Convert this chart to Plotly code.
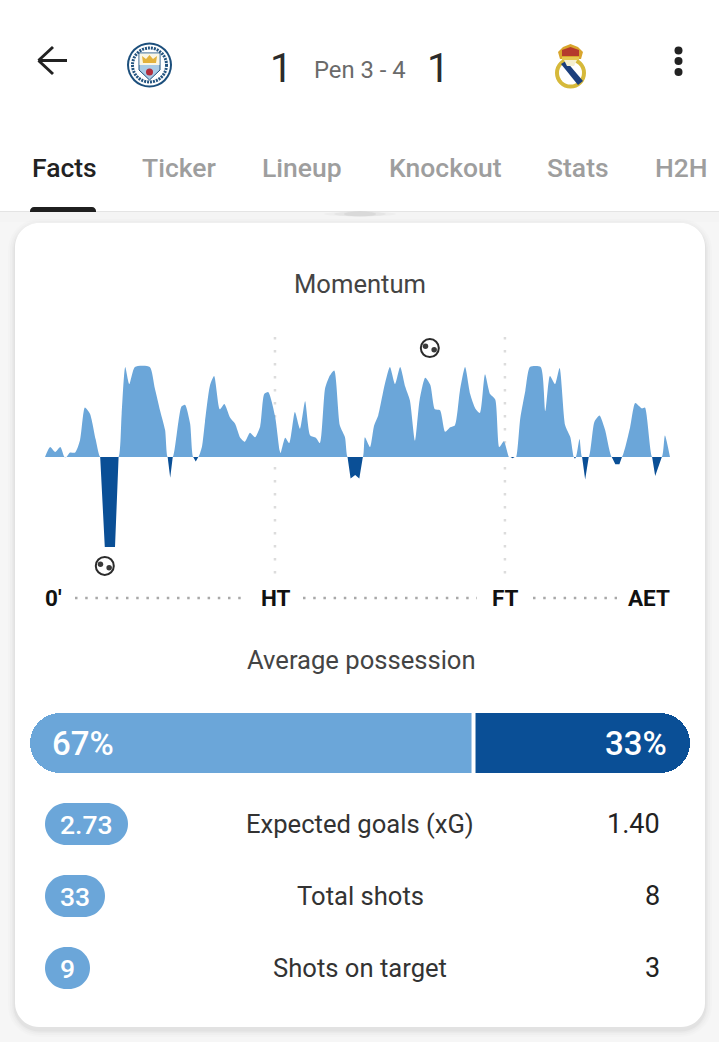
import plotly.graph_objects as go

W, H = 719, 1042
LIGHT = "#6BA6D9"
DARK = "#0A4F96"
FONT = "Roboto, sans-serif"

MINUTES = [
    0, 1, 2, 3, 3.8, 4.2, 4.9, 5.9, 6.85, 7.8, 8.8, 9.9, 10.8, 11.7, 13.7, 14.4,
    15, 15.7, 16.5, 17.6, 20.5, 21.5, 22.5, 23.5, 24, 24.5, 25, 26.1, 26.7, 27.4, 28.4, 29,
    29.5, 30, 30.7, 31.3, 32.3, 33.1, 34.2, 35.1, 36.2, 37.2, 38.2, 39.1, 40.1, 41.1, 42.1, 42.9,
    43.7, 45, 45.9, 46.1, 47, 47.8, 48.9, 49.9, 50.9, 51.9, 53, 53.8, 54.8, 55.6, 56.6, 57.7,
    58.7, 59.2, 59.8, 60.7, 61.5, 62.2, 62.6, 63.6, 64.4, 65.2, 66.5, 67.5, 68.5, 69.5, 70.5, 71.4,
    72.4, 73.3, 74.4, 75.4, 76.3, 77.3, 78.3, 79.3, 80.2, 81.2, 82.2, 83.2, 84.2, 85.1, 86.1, 87.1,
    88.1, 88.9, 89.8, 90.8, 91.1, 91.5, 91.9, 92.2, 93, 94, 94.9, 97, 97.9, 98.8, 99.8, 100.7,
    101.8, 102.8, 103.5, 103.7, 103.9, 104.6, 105.1, 105.7, 106.4, 107.5, 108.5, 109.6, 110.9, 111.6, 112.4, 112.9,
    114.5, 115.5, 116.8, 117.4, 118.8, 119.4, 120.7, 121.3, 122.3,
]
MOMENTUM = [
    0, 11, 5.5, 11, 0, 0, 5, 5, 18.5, 55, 48, 20, 0, -100, -100, 0,
    48, 100, 81, 100, 100, 76, 52, 30, 0, -23, 0, 39, 56, 58, 37, 0,
    -5, 0, 11, 39, 80, 90, 53, 59, 44, 37, 21.5, 17, 27, 22, 34, 70,
    72, 46, 7.5, 4.5, 21.5, 15.5, 50, 31.5, 62, 24, 21.5, 15.5, 76, 89, 96, 35,
    22, 0, -24, -20, -24, 0, 22, 11, 35, 46, 81, 100, 81, 100, 78, 63,
    18, 63, 88, 80, 53, 52, 28, 33, 35, 74, 100, 70, 54, 49, 92, 70,
    64, 11, 17.5, 0, 0, -1.5, 0, 0, 43, 74, 100, 100, 51, 90, 81, 99,
    35, 22, 0, -2, 0, 20, 0, -25, 0, 39, 46, 30, 0, -8, -8, 0,
    33, 60, 54, 55, 0, -21, 0, 24, 0,
]
GOAL_MINUTES = [11.7, 75.3]
GOAL_LEVELS = [-121, 121]

PHASE_LABELS = ["0'", "HT", "FT", "AET"]
POSSESSION = [67, 33]
STAT_LABELS = ["Expected goals (xG)", "Total shots", "Shots on target"]
STAT_HOME = ["2.73", "33", "9"]
STAT_AWAY = ["1.40", "8", "3"]
TABS = ["Facts", "Ticker", "Lineup", "Knockout", "Stats", "H2H"]


def px(x):
    return x / W


def py(y):
    return 1 - y / H


def round_rect(x0, y0, x1, y1, r):
    a, b, c, d = px(x0), py(y0), px(x1), py(y1)
    rx, ry = r / W, r / H
    kx, ky = rx * 0.45, ry * 0.45
    return (
        f"M{a + rx},{b} L{c - rx},{b} C{c - kx},{b} {c},{b - ky} {c},{b - ry} L{c},{d + ry} "
        f"C{c},{d + ky} {c - kx},{d} {c - rx},{d} L{a + rx},{d} C{a + kx},{d} {a},{d + ky} {a},{d + ry} "
        f"L{a},{b - ry} C{a},{b - ky} {a + kx},{b} {a + rx},{b} Z"
    )


def polygon(points):
    return "M" + " L".join(f"{px(x)},{py(y)}" for x, y in points) + " Z"


shapes = []
annotations = []


def path(d, fill, line=None, width=0, layer="below"):
    shapes.append(dict(type="path", xref="paper", yref="paper", path=d, fillcolor=fill,
                       line=dict(color=line or fill, width=width), layer=layer))


def oval(cx, cy, r, fill, line=None, width=0, ry=None, dash="solid", layer="below"):
    ry = r if ry is None else ry
    shapes.append(dict(type="circle", xref="paper", yref="paper", x0=px(cx - r), x1=px(cx + r),
                       y0=py(cy + ry), y1=py(cy - ry), fillcolor=fill,
                       line=dict(color=line or fill, width=width, dash=dash), layer=layer))


def seg(x0, y0, x1, y1, color, width=2, dash="solid", layer="below"):
    shapes.append(dict(type="line", xref="paper", yref="paper", x0=px(x0), x1=px(x1), y0=py(y0), y1=py(y1),
                       line=dict(color=color, width=width, dash=dash), layer=layer))


def label(text, x, y, size, color, anchor="center", weight=400):
    annotations.append(dict(text=text, xref="paper", yref="paper", x=px(x), y=py(y), xanchor=anchor,
                            yanchor="middle", showarrow=False,
                            font=dict(family=FONT, size=size, color=color, weight=weight)))


# header
path(polygon([(0, 0), (W, 0), (W, 211), (0, 211)]), "#ffffff")
seg(0, 211.5, W, 211.5, "#e4e4e4", 1)
path(round_rect(30, 207, 96, 216, 4), "#1f1f1f")
path(polygon([(0, 212), (W, 212), (W, 222), (0, 222)]), "#f4f4f4")
for half, alpha in [(36, 0.025), (26, 0.035), (16, 0.05)]:
    oval(360, 214, half, f"rgba(0,0,0,{alpha})", ry=2.5)

seg(38.5, 60.5, 67, 60.5, "#222222", 3)
seg(38.5, 60.5, 53, 47, "#222222", 3)
seg(38.5, 60.5, 53, 74, "#222222", 3)
for dot_y in [50.5, 61, 72]:
    oval(678.5, dot_y, 4, "#222222")

# city crest
oval(149.5, 65, 22.5, "#1c4f7c")
oval(149.5, 65, 20.5, "#ffffff")
oval(149.5, 65, 17, "#ffffff", "#24547f", 3, dash="2px,1px")
oval(149.5, 65, 15, "#ffffff")
path(polygon([(139, 53), (160, 53), (160, 70), (149.5, 80), (139, 70)]), "#a9cbe6", "#1c4f7c", 1)
path(polygon([(139.5, 53.5), (159.5, 53.5), (159.5, 65), (139.5, 65)]), "#fbf6e4")
path(polygon([(143, 63), (142, 56), (146, 59), (149.5, 55), (153, 59), (157, 56), (156, 63)]), "#e3b23c")
oval(149.5, 72, 3.5, "#b22d3c")

# madrid crest
oval(570.5, 73, 15.5, "#d6b93a")
oval(570.5, 73, 11.5, "#ffffff")
path(polygon([(561, 64), (566, 61), (583, 81), (578, 85)]), "#1c3f7c")
path(polygon([(560, 59), (558, 52), (563, 47), (570.5, 44), (578, 47), (583, 52), (581, 59)]), "#d9a52c")
path(polygon([(562, 56), (562, 50), (570.5, 47), (579, 50), (579, 56)]), "#b5382c")
path(polygon([(562, 60), (579, 60), (579, 57), (562, 57)]), "#e5c752")
path(polygon([(564, 60), (577, 60), (574, 66), (567, 66)]), "#f5efcf")

label("1", 281, 68, 40, "#2b2b2b")
label("Pen 3 - 4", 360, 70, 23.8, "#6a6a6a")
label("1", 438, 68, 40, "#2b2b2b")

tab_x = [64.5, 178.5, 301.5, 445.5, 578, 681.5]
for i, tab in enumerate(TABS):
    label(tab, tab_x[i], 167.5, 26.5, "#222222" if i == 0 else "#9e9e9e", weight=500)

# card with a soft shadow
for grow, alpha in [(7, 0.01), (5, 0.014), (3, 0.02), (1.5, 0.03)]:
    path(round_rect(15 - grow, 223 - grow + 3, 705 + grow, 1027 + grow + 3, 24 + grow), f"rgba(0,0,0,{alpha})")
path(round_rect(15, 223, 705, 1027, 24), "#ffffff")

label("Momentum", 360, 284, 25.6, "#444444")
label("Average possession", 361, 660, 25.6, "#444444")

# momentum guides
for minute in [45, 90]:
    shapes.append(dict(type="line", xref="x", yref="paper", x0=minute, x1=minute, y0=py(337), y1=py(578),
                       line=dict(color="#dcdcdc", width=2.5, dash="2.5px,10.5px"), layer="below"))
for x0, x1 in [(75, 247), (303, 477), (533, 617)]:
    seg(x0, 598, x1, 598, "#a8a8a8", 2.5, "2.5px,7.7px")

phase_x = [43, 275.5, 505, 672]
phase_anchor = ["left", "center", "center", "right"]
for text, x, anchor in zip(PHASE_LABELS, phase_x, phase_anchor):
    label(text, x, 598, 22.5, "#111111", anchor, 700)

fig = go.Figure()
fig.add_trace(go.Scatter(
    x=MINUTES, y=[max(v, 0) for v in MOMENTUM], mode="lines", fill="tozeroy",
    fillcolor=LIGHT, line=dict(width=0, shape="spline", smoothing=0.6), xaxis="x", yaxis="y", name="Man City",
))
fig.add_trace(go.Scatter(
    x=MINUTES, y=[min(v, 0) for v in MOMENTUM], mode="lines", fill="tozeroy",
    fillcolor=DARK, line=dict(width=0), xaxis="x", yaxis="y", name="Real Madrid",
))
fig.add_trace(go.Scatter(
    x=GOAL_MINUTES, y=GOAL_LEVELS, mode="markers",
    marker=dict(size=18, color="#ffffff", line=dict(color="#2b2b2b", width=2)),
    xaxis="x", yaxis="y", name="Goals",
))
# the two spots on each ball
for side in [-1, 1]:
    fig.add_trace(go.Scatter(
        x=[m + side * 0.85 for m in GOAL_MINUTES], y=[v - side * 2 for v in GOAL_LEVELS], mode="markers",
        marker=dict(size=5.5, color="#3a3a3a"), xaxis="x", yaxis="y", showlegend=False,
    ))

# possession bar, rounded at the outer ends, the square bars hide the inner corners
no_line = dict(width=0)
fig.add_trace(go.Bar(
    x=[-POSSESSION[0]], y=[0], base=[POSSESSION[0]], orientation="h",
    marker=dict(color=LIGHT, cornerradius=30, line=no_line), xaxis="x2", yaxis="y2", name="Man City",
))
fig.add_trace(go.Bar(
    x=[POSSESSION[1]], y=[0], base=[POSSESSION[0]], orientation="h",
    marker=dict(color=DARK, cornerradius=30, line=no_line), xaxis="x2", yaxis="y2", name="Real Madrid",
))
fig.add_trace(go.Bar(
    x=[-POSSESSION[0] / 2], y=[0], base=[POSSESSION[0]], orientation="h",
    marker=dict(color=LIGHT, line=no_line), xaxis="x2", yaxis="y2", showlegend=False,
))
fig.add_trace(go.Bar(
    x=[POSSESSION[1] / 2], y=[0], base=[POSSESSION[0]], orientation="h",
    marker=dict(color=DARK, line=no_line), xaxis="x2", yaxis="y2", showlegend=False,
))
shapes.append(dict(type="line", xref="x2", yref="y2", x0=POSSESSION[0] + 0.2, x1=POSSESSION[0] + 0.2, y0=-0.5, y1=0.5,
                   line=dict(color="#ffffff", width=4), layer="above"))
label(f"{POSSESSION[0]}%", 50, 743, 33, "#ffffff", "left", 500)
label(f"{POSSESSION[1]}%", 669, 743, 33, "#ffffff", "right", 500)

# stat rows
row_y = [824, 896, 968]
pill_right = [128, 105, 90]
for i, text in enumerate(STAT_LABELS):
    path(round_rect(45, row_y[i] - 21, pill_right[i], row_y[i] + 21, 21), LIGHT)
    label(STAT_HOME[i], (45 + pill_right[i]) / 2, row_y[i], 26.5, "#ffffff", weight=500)
    label(text, 360, row_y[i], 25.6, "#333333")
    label(STAT_AWAY[i], 662, row_y[i], 27, "#222222", "right", 400)

hidden = dict(visible=False, fixedrange=True)
fig.update_layout(
    width=W,
    height=H,
    margin=dict(l=0, r=0, t=0, b=0),
    paper_bgcolor="#f6f6f6",
    plot_bgcolor="rgba(0,0,0,0)",
    showlegend=False,
    barmode="overlay",
    bargap=0,
    shapes=shapes,
    annotations=annotations,
    xaxis=dict(domain=[px(45), px(670)], range=[0, 122.3], **hidden),
    yaxis=dict(domain=[py(577), py(337)], range=[-133.3, 133.3], **hidden),
    xaxis2=dict(domain=[px(30), px(690)], range=[0, 100], anchor="y2", **hidden),
    yaxis2=dict(domain=[py(773), py(713)], range=[-0.5, 0.5], anchor="x2", **hidden),
)

fig.write_html("out.html", config=dict(displayModeBar=False),
               post_script="document.body.style.margin='0';document.body.style.overflow='hidden';")
